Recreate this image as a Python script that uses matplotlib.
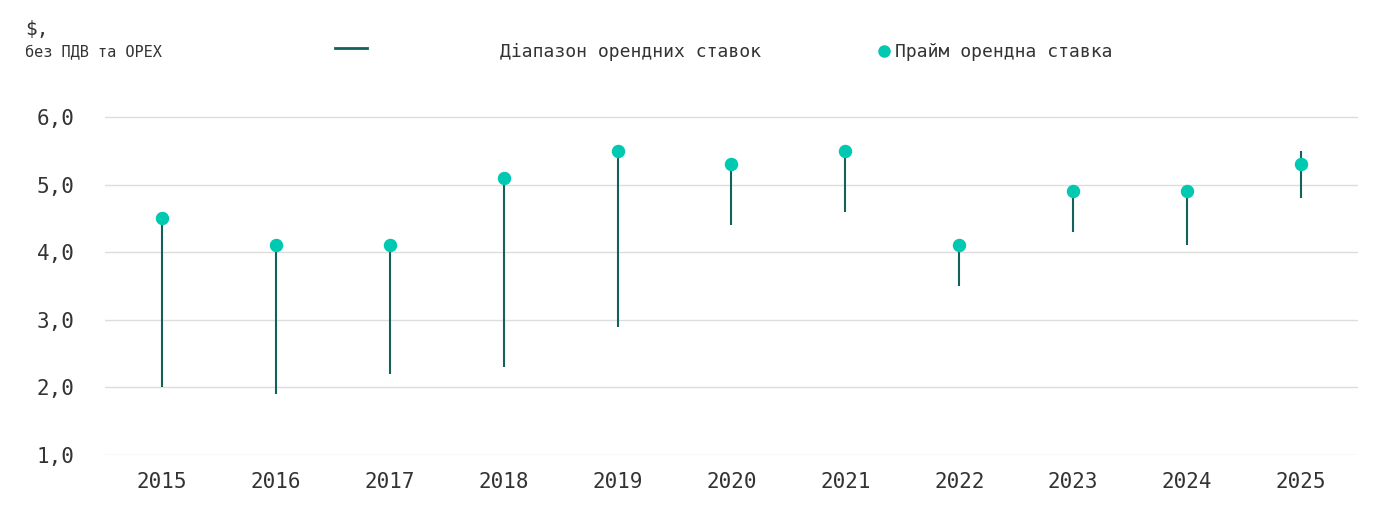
import matplotlib
matplotlib.use("Agg")
import matplotlib.pyplot as plt
from matplotlib.lines import Line2D

years = [2015, 2016, 2017, 2018, 2019, 2020, 2021, 2022, 2023, 2024, 2025]
range_low = [2.0, 1.9, 2.2, 2.3, 2.9, 4.4, 4.6, 3.5, 4.3, 4.1, 4.8]
range_high = [4.5, 4.1, 4.1, 5.1, 5.5, 5.3, 5.5, 4.1, 4.9, 4.9, 5.5]
prime = [4.5, 4.1, 4.1, 5.1, 5.5, 5.3, 5.5, 4.1, 4.9, 4.9, 5.3]
yticks = [1.0, 2.0, 3.0, 4.0, 5.0, 6.0]
ytick_labels = ["1,0", "2,0", "3,0", "4,0", "5,0", "6,0"]

line_c = "#12625a"
dot_c = "#00c9b1"
plt.rcParams['font.family'] = ['DejaVu Sans Mono']

fig = plt.figure(figsize=(13.89, 5.22), dpi=100)
ax = fig.add_axes([105/1389, 1-455/522, (1358-105)/1389, (455-100)/522])
ax.vlines(years, range_low, range_high, color=line_c, lw=1.5, zorder=2)
ax.scatter(years, prime, s=75, color=dot_c, zorder=3)
ax.set_xlim(2014.5, 2025.5)
ax.set_ylim(1.0, 6.25)
ax.set_yticks(yticks)
ax.set_yticklabels(ytick_labels, fontsize=15, color="#333333")
ax.set_xticks(years)
ax.set_xticklabels([str(y) for y in years], fontsize=15, color="#333333")
ax.grid(axis='y', color="#dddddd", lw=1)
ax.set_axisbelow(True)
for s in ax.spines.values():
    s.set_visible(False)
ax.tick_params(length=0, pad=12)
ax.tick_params(axis='y', pad=22)

fig.text(25/1389, 1-30/522, "$,", fontsize=14, color="#333333", va='center')
fig.text(25/1389, 1-52/522, "без ПДВ та OPEX", fontsize=11, color="#333333", va='center')
fig.lines.append(Line2D([335/1389, 367/1389], [1-48/522]*2, color=line_c, lw=2, transform=fig.transFigure))
fig.text(500/1389, 1-52/522, "Діапазон орендних ставок", fontsize=13, color="#333333", va='center')
fig.lines.append(Line2D([884/1389], [1-51/522], marker='o', ms=8, color=dot_c, ls='none', transform=fig.transFigure))
fig.text(895/1389, 1-52/522, "Прайм орендна ставка", fontsize=13, color="#333333", va='center')

fig.savefig("out.png", dpi=100)
